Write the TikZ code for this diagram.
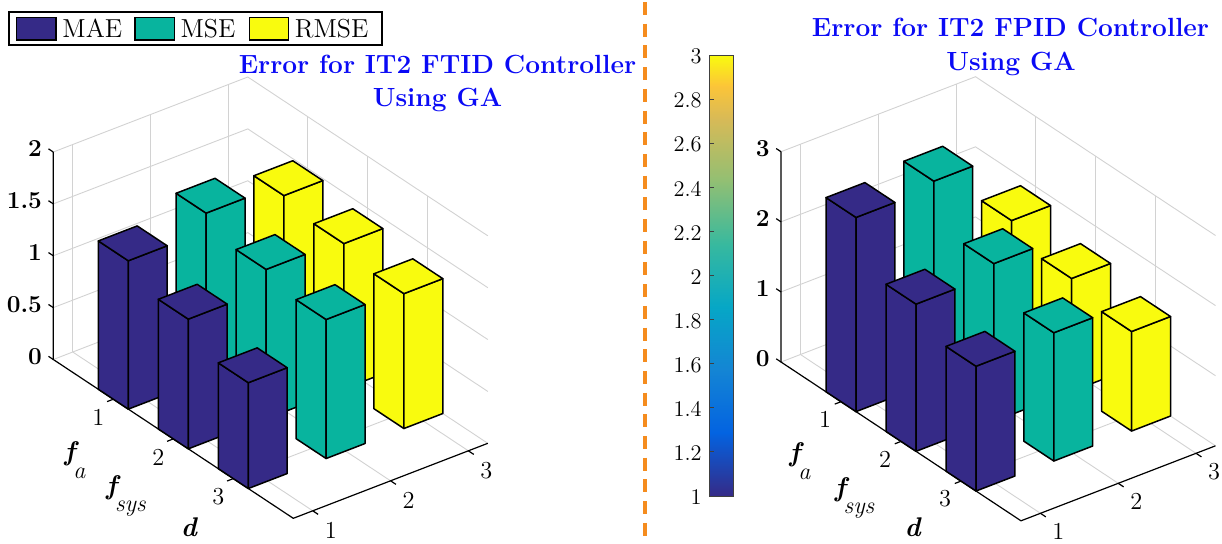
\documentclass[tikz,border=0pt]{standalone}
\usepackage{fontspec}
\usetikzlibrary{positioning}

\definecolor{maecol}{RGB}{53,42,135}
\definecolor{msecol}{RGB}{8,180,158}
\definecolor{rmsecol}{RGB}{249,251,14}
\definecolor{ttlblue}{RGB}{10,10,245}
\definecolor{sepor}{RGB}{245,140,30}
\definecolor{gridcol}{RGB}{210,210,210}
% colour stops of the colour bar (bottom to top)
\definecolor{cbA}{HTML}{352A87}
\definecolor{cbB}{HTML}{0363E1}
\definecolor{cbC}{HTML}{1485D4}
\definecolor{cbD}{HTML}{06A7C6}
\definecolor{cbE}{HTML}{38B99E}
\definecolor{cbF}{HTML}{92BF73}
\definecolor{cbG}{HTML}{D9BA56}
\definecolor{cbH}{HTML}{FCC538}
\definecolor{cbI}{HTML}{F9FB0E}

% one bar: column, row, height, colour (only the three visible faces)
\newcommand{\errbar}[4]{%
  \filldraw[barface, fill=#4] (#1-0.25,#2-0.25,0) -- (#1-0.25,#2+0.25,0) -- (#1-0.25,#2+0.25,#3) -- (#1-0.25,#2-0.25,#3) -- cycle;
  \filldraw[barface, fill=#4] (#1-0.25,#2+0.25,0) -- (#1+0.25,#2+0.25,0) -- (#1+0.25,#2+0.25,#3) -- (#1-0.25,#2+0.25,#3) -- cycle;
  \filldraw[barface, fill=#4] (#1-0.25,#2-0.25,#3) -- (#1+0.25,#2-0.25,#3) -- (#1+0.25,#2+0.25,#3) -- (#1-0.25,#2+0.25,#3) -- cycle;
}
% axis label with a full-size lowered subscript
\newcommand{\fsub}[2]{\textbf{\textit{#1}}\kern-2.8pt\raisebox{-0.66em}{\fontsize{12}{14}\selectfont\textit{#2}}}

\begin{document}
\begin{tikzpicture}[
  x=0.5pt, y=-0.5pt,
  legframe/.style={draw=black, line width=1pt, fill=white, inner sep=0pt},
  sw/.style={draw=black, line width=0.65pt, minimum width=19.65pt,
             minimum height=11.35pt, inner sep=0pt},
  legtxt/.style={inner sep=0pt, font=\fontsize{13}{15}\selectfont},
  ttl/.style={inner sep=0pt, text=ttlblue, font=\fontsize{13.15}{16}\selectfont\bfseries},
  gridln/.style={draw=gridcol, line width=0.45pt},
  axisln/.style={draw=black, line width=0.6pt},
  tickln/.style={draw=black, line width=0.6pt},
  barface/.style={draw=black, line width=0.75pt, line join=round},
  zlbl/.style={anchor=east, inner sep=0pt, xshift=-3pt,
               font=\fontsize{12.2}{14}\selectfont\bfseries},
  tklbl/.style={inner sep=0pt, font=\fontsize{12.2}{14}\selectfont},
  axlbl/.style={inner sep=0pt, font=\fontsize{13.5}{16}\selectfont},
  cbframe/.style={draw=black!75, line width=0.5pt, inner sep=0pt},
  cblbl/.style={anchor=east, inner sep=0pt, font=\fontsize{11.2}{13}\selectfont},
  sepline/.style={draw=sepor, line width=1.65pt, dash pattern=on 6.5pt off 4.35pt},
]
\useasboundingbox (0,0) rectangle (1222,543);

% Legend
\node[legframe, minimum width=186.2pt, minimum height=16.65pt] (LEG) at (195.5,28.35) {};
\node[sw, fill=maecol]  (SWA) at (36.35,28.65) {};
\node[sw, fill=msecol]  (SWB) at (154.5,28.65) {};
\node[sw, fill=rmsecol] (SWC) at (268.8,28.65) {};
\node[legtxt, right=2.7pt of SWA] (TXA) {MAE};
\node[legtxt, right=2.7pt of SWB] (TXB) {MSE};
\node[legtxt, right=2.7pt of SWC] (TXC) {RMSE};

% Titles
\node[ttl, anchor=base] (TTLA) at (437.5,73.3)  {Error for IT2 FTID Controller};
\node[ttl, anchor=base] (TTLB) at (437.5,106.7) {Using GA};
\node[ttl, anchor=base] (TTRA) at (1010.5,36.7) {Error for IT2 FPID Controller};
\node[ttl, anchor=base] (TTRB) at (1011,70)     {Using GA};

% Left chart (columns x, rows y, error z)
\begin{scope}[shift={(-5.05,382)}, x={(38.9pt,15pt)}, y={(30pt,-19.85pt)}, z={(0pt,51.875pt)}]
  % grid on the back walls and the floor
  \foreach \v in {1,2,3} {
    \draw[gridln] (\v,0,0) -- (\v,0,2);
    \draw[gridln] (\v,0,0) -- (\v,4,0);
    \draw[gridln] (3.25,\v,0) -- (3.25,\v,2);
    \draw[gridln] (0.75,\v,0) -- (3.25,\v,0);
  }
  \foreach \w in {0,0.5,1,1.5,2}
    \draw[gridln] (0.75,0,\w) -- (3.25,0,\w) -- (3.25,4,\w);
  % axes, ticks and tick labels
  \draw[axisln] (0.75,0,2) -- (0.75,0,0) -- (0.75,4,0) -- (3.25,4,0);
  \foreach \w [count=\i] in {0,0.5,1,1.5,2}
    \draw[tickln] (0.75,0,\w) -- (0.75,-0.08,\w) node[zlbl] (ZLA\i) {\w};
  \foreach \k in {1,2,3} {
    \draw[tickln] (0.75,\k,0) -- (0.67,\k,0);
    \node[tklbl, xshift=-7.5pt, yshift=-9pt] (RLA\k) at (0.75,\k,0) {\k};
    \draw[tickln] (\k,4,0) -- (\k,4.09,0);
    \node[tklbl, xshift=9pt, yshift=-9.8pt] (CLA\k) at (\k,4,0) {\k};
  }
  % bars, back to front
  \errbar{3}{1}{1.48}{rmsecol}
  \errbar{3}{2}{1.40}{rmsecol}
  \errbar{3}{3}{1.30}{rmsecol}
  \errbar{2}{1}{1.60}{msecol}
  \errbar{2}{2}{1.44}{msecol}
  \errbar{2}{3}{1.34}{msecol}
  \errbar{1}{1}{1.43}{maecol}
  \errbar{1}{2}{1.25}{maecol}
  \errbar{1}{3}{1.02}{maecol}
\end{scope}

\node[axlbl] (FAL) at (75,460)    {\fsub{f}{a}};
\node[axlbl] (FSL) at (126,496)   {\fsub{f}{sys}};
\node[axlbl] (DL)  at (189.5,527) {\textbf{\textit{d}}};

% Separator
\coordinate (SEPT) at (645,2);
\coordinate (SEPB) at (645,541);
\draw[sepline] (SEPT) -- (SEPB);

% Colour bar
\foreach \ya/\yb/\cola/\colb in {496/432.4/cbA/cbB, 433/369.4/cbB/cbC, 370/306.4/cbC/cbD,
    307/243.4/cbD/cbE, 244/180.4/cbE/cbF, 181/117.4/cbF/cbG, 118/85.3/cbG/cbH, 85.9/55/cbH/cbI}
  \shade[bottom color=\cola, top color=\colb] (709.3,\ya) rectangle (733.3,\yb);
\node[cbframe, minimum width=12pt, minimum height=220.5pt] (CBAR) at (721.3,275.5) {};
\foreach \v [count=\i, evaluate=\v as \yy using 496-(\v-1)*220.5] in {1,1.2,1.4,1.6,1.8,2,2.2,2.4,2.6,2.8,3} {
  \draw[black!75, line width=0.5pt] (709.3,\yy) -- (713.5,\yy);
  \node[cblbl] (CBL\i) at (702,\yy+1.5) {\v};
}

% Right chart
\begin{scope}[shift={(722.65,384.5)}, x={(38.9pt,15pt)}, y={(30pt,-19.85pt)}, z={(0pt,35.05pt)}]
  % grid on the back walls and the floor
  \foreach \v in {1,2,3} {
    \draw[gridln] (\v,0,0) -- (\v,0,3);
    \draw[gridln] (\v,0,0) -- (\v,4,0);
    \draw[gridln] (3.25,\v,0) -- (3.25,\v,3);
    \draw[gridln] (0.75,\v,0) -- (3.25,\v,0);
  }
  \foreach \w in {0,1,2,3}
    \draw[gridln] (0.75,0,\w) -- (3.25,0,\w) -- (3.25,4,\w);
  % axes, ticks and tick labels
  \draw[axisln] (0.75,0,3) -- (0.75,0,0) -- (0.75,4,0) -- (3.25,4,0);
  \foreach \w [count=\i] in {0,1,2,3}
    \draw[tickln] (0.75,0,\w) -- (0.75,-0.08,\w) node[zlbl] (ZLB\i) {\w};
  \foreach \k in {1,2,3} {
    \draw[tickln] (0.75,\k,0) -- (0.67,\k,0);
    \node[tklbl, xshift=-8pt, yshift=-8.8pt] (RLB\k) at (0.75,\k,0) {\k};
    \draw[tickln] (\k,4,0) -- (\k,4.09,0);
    \node[tklbl, xshift=9pt, yshift=-9pt] (CLB\k) at (\k,4,0) {\k};
  }
  % bars, back to front
  \errbar{3}{1}{1.87}{rmsecol}
  \errbar{3}{2}{1.61}{rmsecol}
  \errbar{3}{3}{1.42}{rmsecol}
  \errbar{2}{1}{2.86}{msecol}
  \errbar{2}{2}{2.25}{msecol}
  \errbar{2}{3}{1.83}{msecol}
  \errbar{1}{1}{2.77}{maecol}
  \errbar{1}{2}{2.10}{maecol}
  \errbar{1}{3}{1.78}{maecol}
\end{scope}

\node[axlbl] (FAR) at (800,461.5)   {\fsub{f}{a}};
\node[axlbl] (FSR) at (854.7,498)   {\fsub{f}{sys}};
\node[axlbl] (DR)  at (913.3,527.5) {\textbf{\textit{d}}};

\end{tikzpicture}
\end{document}
